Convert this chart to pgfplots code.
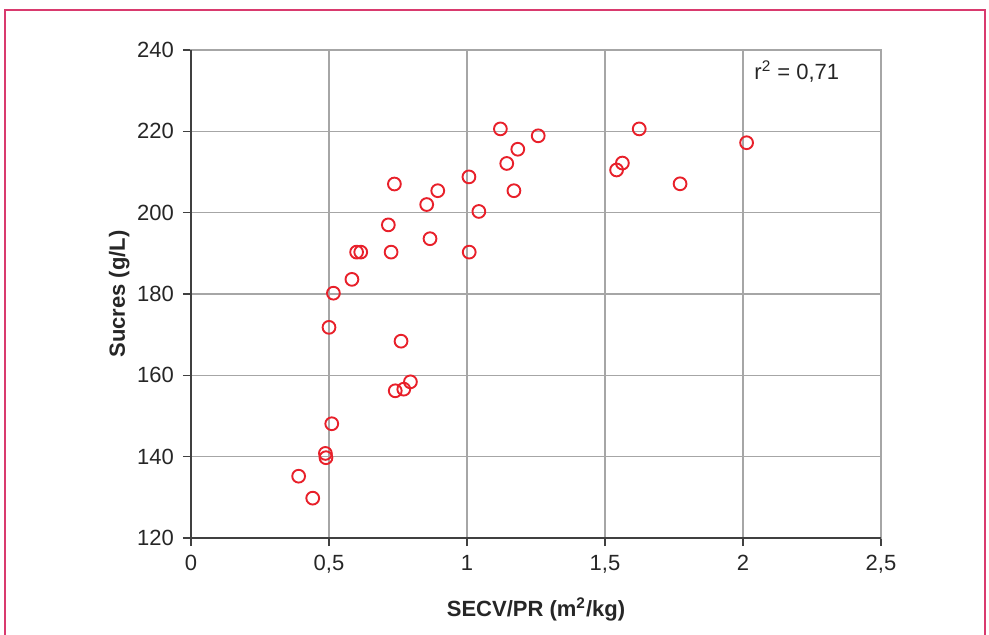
\documentclass[border=0pt]{standalone}
\usepackage{pgfplots}
\pgfplotsset{compat=1.18}
\usepackage{fontspec}
\setmainfont{Liberation Sans}
\definecolor{frame}{HTML}{D93A6E}
\definecolor{gridc}{HTML}{A6A6A6}
\definecolor{axdark}{HTML}{404040}
\definecolor{ptred}{HTML}{E8202A}
\begin{document}
\begin{tikzpicture}
\useasboundingbox (-95.5pt,-48pt) rectangle (399pt,269pt);
\draw[frame, line width=0.8pt] (-93pt,-60pt) -- (-93pt,264pt) -- (397pt,264pt) -- (397pt,-60pt);
\begin{axis}[
  at={(0,0)}, anchor=south west,
  scale only axis, width=345pt, height=244pt,
  xmin=0, xmax=2.5, ymin=120, ymax=240,
  xtick={0,0.5,1,1.5,2,2.5},
  xticklabels={0,{0,5},1,{1,5},2,{2,5}},
  ytick={120,140,160,180,200,220,240},
  /pgf/number format/assume math mode=true,
  grid=major,
  major grid style={gridc, line width=0.75pt},
  axis line style={gridc, line width=0.75pt},
  tick align=outside,
  xtick pos=left, ytick pos=left,
  major tick length=4pt,
  tick style={axdark, line width=0.75pt},
  tick label style={font=\fontsize{11}{13}\selectfont, text=black!85},
  xticklabel style={yshift=-1pt},
  yticklabel style={xshift=-1pt},
  xlabel={\bfseries SECV/PR (m\textsuperscript{2}/kg)},
  ylabel={\bfseries Sucres (g/L)},
  label style={font=\fontsize{11}{13}\selectfont, text=black!85},
  xlabel style={yshift=-5.5pt},
  ylabel style={yshift=-3pt},
  clip=false,
]
\addplot[only marks, mark=o, mark size=3.2pt, mark options={ptred, line width=0.95pt}] coordinates {
(1.121,220.6) (1.258,218.9) (1.184,215.6) (1.144,212.1) (1.007,208.8)
(0.737,207.05) (0.894,205.4) (1.170,205.4) (0.854,202.0) (1.043,200.3)
(0.715,197.0) (0.866,193.6) (0.600,190.3) (0.615,190.3) (0.725,190.3)
(1.008,190.3) (0.583,183.6) (0.516,180.2) (0.500,171.8) (0.761,168.4)
(0.795,158.4) (0.771,156.6) (0.740,156.2) (0.510,148.1) (0.487,140.8)
(0.489,139.75) (0.390,135.2) (0.441,129.8) (1.624,220.6) (1.563,212.2)
(1.542,210.5) (1.772,207.1) (2.013,217.2)
};
\draw[axdark, line width=0.75pt] (rel axis cs:0,1) -- (rel axis cs:0,0) -- (rel axis cs:1,0);
\node[anchor=west, font=\fontsize{11}{13}\selectfont, text=black!85, inner sep=0pt] at (axis cs:2.04,234.6) {r\textsuperscript{2} = 0,71};
\end{axis}
\end{tikzpicture}
\end{document}
